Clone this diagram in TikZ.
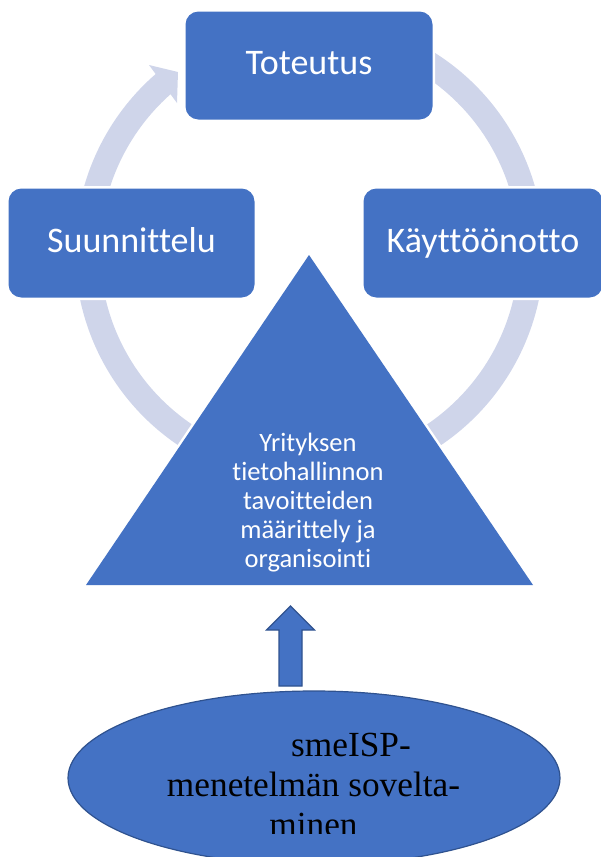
\documentclass[tikz,border=0pt]{standalone}
\usepackage{fontspec}
\setmainfont{Liberation Serif}
\newfontfamily\calibri[Ligatures=NoCommon]{Carlito}
\usetikzlibrary{shapes.geometric}
\definecolor{boxblue}{HTML}{4472C4}
\definecolor{ringgray}{HTML}{CFD5EA}
\definecolor{edgeblue}{HTML}{2F528F}
\begin{document}
\begin{tikzpicture}[x=1pt,y=-1pt,
  stage/.style={fill=boxblue, preaction={draw=white, line width=5pt},
    rounded corners=13pt, inner sep=0pt, text=white,
    font=\calibri\fontsize{36}{43}\selectfont,
    text height=24pt, text depth=5.4pt},
  ringline/.style={draw=ringgray, line width=25pt},
  goal/.style={text=white, align=center, inner sep=0pt,
    font=\calibri\fontsize{26.5}{29}\selectfont},
  blockarrow/.style={fill=boxblue, draw=edgeblue, line width=1.2pt, line join=miter}
]
\useasboundingbox (0,0) rectangle (601,857);

% cycle ring with its arrow head
\draw[ringline] plot[domain=-62:229.2, samples=140, smooth]
  ({309.5+222*cos(\x)},{251+222*sin(\x)});
\coordinate (flareout) at (149,65);
\coordinate (tip) at (178,72);
\coordinate (flarein) at (177,103);
\fill[ringgray] (flareout) -- (tip) -- (flarein) -- cycle;

% the three stages
\node[stage, minimum width=247pt, minimum height=108pt] (toteutus) at (309,65.5) {Toteutus};
\node[stage, minimum width=246pt, minimum height=109pt] (suunnittelu) at (131.5,243) {Suunnittelu};
\node[stage, minimum width=239pt, minimum height=109pt] (kaytto) at (483,243) {Käyttöönotto};

% goal triangle
\coordinate (tl) at (86,585);
\coordinate (tr) at (533,585);
\coordinate (apex) at (309,255);
\draw[white, line width=5pt, line join=round] (tl) -- (tr) -- (apex) -- cycle;
\fill[boxblue] (tl) -- (tr) -- (apex) -- cycle;
\node[goal, anchor=base] (goaltext) at (308,567)
  {Yrityksen\\tietohallinnon\\tavoitteiden\\määrittely ja\\organisointi};

% upward block arrow
\coordinate (atip) at (290.5,606);
\draw[blockarrow] (atip) -- (314.5,630) -- (302,630) -- (302,686) -- (279,686)
  -- (279,630) -- (266.5,630) -- cycle;

% method ellipse
\node[ellipse, fill=boxblue, draw=edgeblue, line width=1.2pt,
  minimum width=492pt, minimum height=174pt, inner sep=0pt] (method) at (314,778) {};
\begin{scope}
  \clip (0,0) rectangle (601,833);
  \node[align=center, inner sep=0pt, anchor=base,
    font=\fontsize{35.3}{40}\selectfont] (methodtext) at (313.5,836)
    {\hspace*{75pt}smeISP-\\menetelmän sovelta-\\minen};
\end{scope}
\end{tikzpicture}
\end{document}
